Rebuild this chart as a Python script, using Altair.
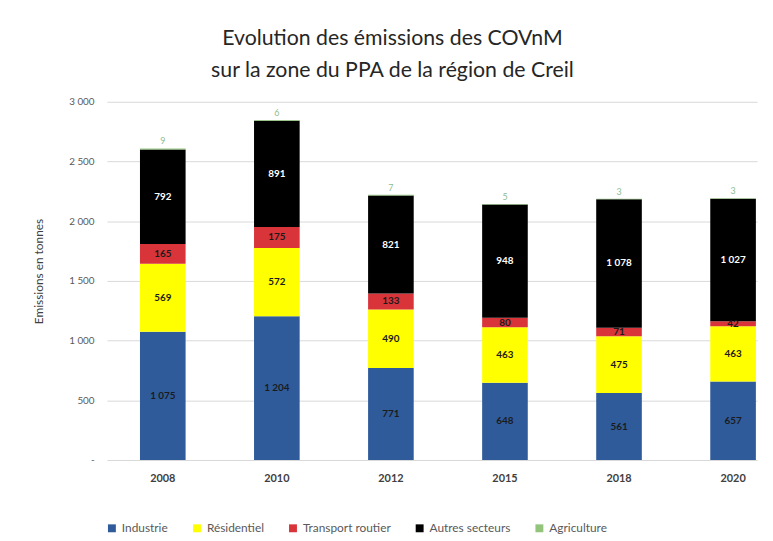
import altair as alt
import pandas as pd

years = ["2008", "2010", "2012", "2015", "2018", "2020"]
series = ["Industrie", "Résidentiel", "Transport routier", "Autres secteurs", "Agriculture"]
industrie = [1075, 1204, 771, 648, 561, 657]
residentiel = [569, 572, 490, 463, 475, 463]
transport = [165, 175, 133, 80, 71, 42]
autres = [792, 891, 821, 948, 1078, 1027]
agriculture = [9, 6, 7, 5, 3, 3]
colors = ["#2f5b9b", "#ffff00", "#d8343a", "#000000", "#92c47c"]
y_ticks = [0, 500, 1000, 1500, 2000, 2500, 3000]

all_vals = [industrie, residentiel, transport, autres, agriculture]
rows = []
for i, yr in enumerate(years):
    for k, (s, vals) in enumerate(zip(series, all_vals)):
        rows.append({"year": yr, "series": s, "value": vals[i], "order": k})
df = pd.DataFrame(rows)

fmt = "replace(format(datum.value, ',d'), ',', ' ')"

base = alt.Chart(df).transform_stack(
    stack="value", groupby=["year"],
    sort=[alt.SortField("order", "ascending")], as_=["y0", "y1"]
).transform_calculate(mid="(datum.y0 + datum.y1) / 2", lab=fmt)

x = alt.X(
    "year:N",
    scale=alt.Scale(paddingInner=0.6, paddingOuter=0.15, align=0.965),
    axis=alt.Axis(title=None, labelAngle=0, labelFontWeight="bold", labelFontSize=11,
                  labelColor="#404040", labelPadding=13, ticks=False, domain=False, grid=False),
)

bars = base.mark_bar().encode(
    x=x,
    y=alt.Y(
        "y0:Q",
        scale=alt.Scale(domain=[0, 3000]),
        axis=alt.Axis(
            title="Emissions en tonnes", values=y_ticks,
            labelExpr="datum.value == 0 ? '-' : replace(format(datum.value, ',d'), ',', ' ')",
            grid=True, gridColor="#d9d9d9", domain=False, ticks=False,
            labelFontSize=10, labelColor="#595959", labelPadding=13,
            titleFontSize=12, titleFontWeight="normal", titleColor="#404040",
            titleX=-62, titleY=171, titleAngle=-90,
        ),
    ),
    y2="y1:Q",
    color=alt.Color(
        "series:N",
        scale=alt.Scale(domain=series, range=colors),
        legend=alt.Legend(
            title=None, orient="none", legendX=-1, legendY=425, direction="horizontal",
            symbolType="square", symbolSize=64, symbolStrokeWidth=0,
            labelFontSize=12, labelColor="#595959", columnPadding=23,
        ),
    ),
)

inside = base.transform_filter("datum.series != 'Agriculture'").mark_text(
    fontSize=10, fontWeight="bold"
).encode(
    x=x,
    y=alt.Y("mid:Q"),
    text="lab:N",
    color=alt.condition("datum.series == 'Autres secteurs'", alt.value("white"), alt.value("#1b1b1b")),
)

agri = base.transform_filter("datum.series == 'Agriculture'").mark_text(
    fontSize=9, dy=-7, color="#8fbc8f"
).encode(x=x, y=alt.Y("y1:Q"), text="lab:N")

chart = alt.layer(bars, inside, agri).properties(
    width=657, height=362,
    autosize=alt.AutoSizeParams(type="none"),
    padding={"left": 100, "top": 92, "right": 8, "bottom": 77},
    title=alt.TitleParams(
        ["Evolution des émissions des COVnM", "sur la zone du PPA de la région de Creil"],
        fontSize=21.5, fontWeight="normal", lineHeight=32, color="#262626",
        anchor="middle", dx=-40, offset=16,
    ),
).configure(font="Lato").configure_view(stroke=None)

chart.save("out.html", embed_options={"renderer": "svg", "actions": False})
